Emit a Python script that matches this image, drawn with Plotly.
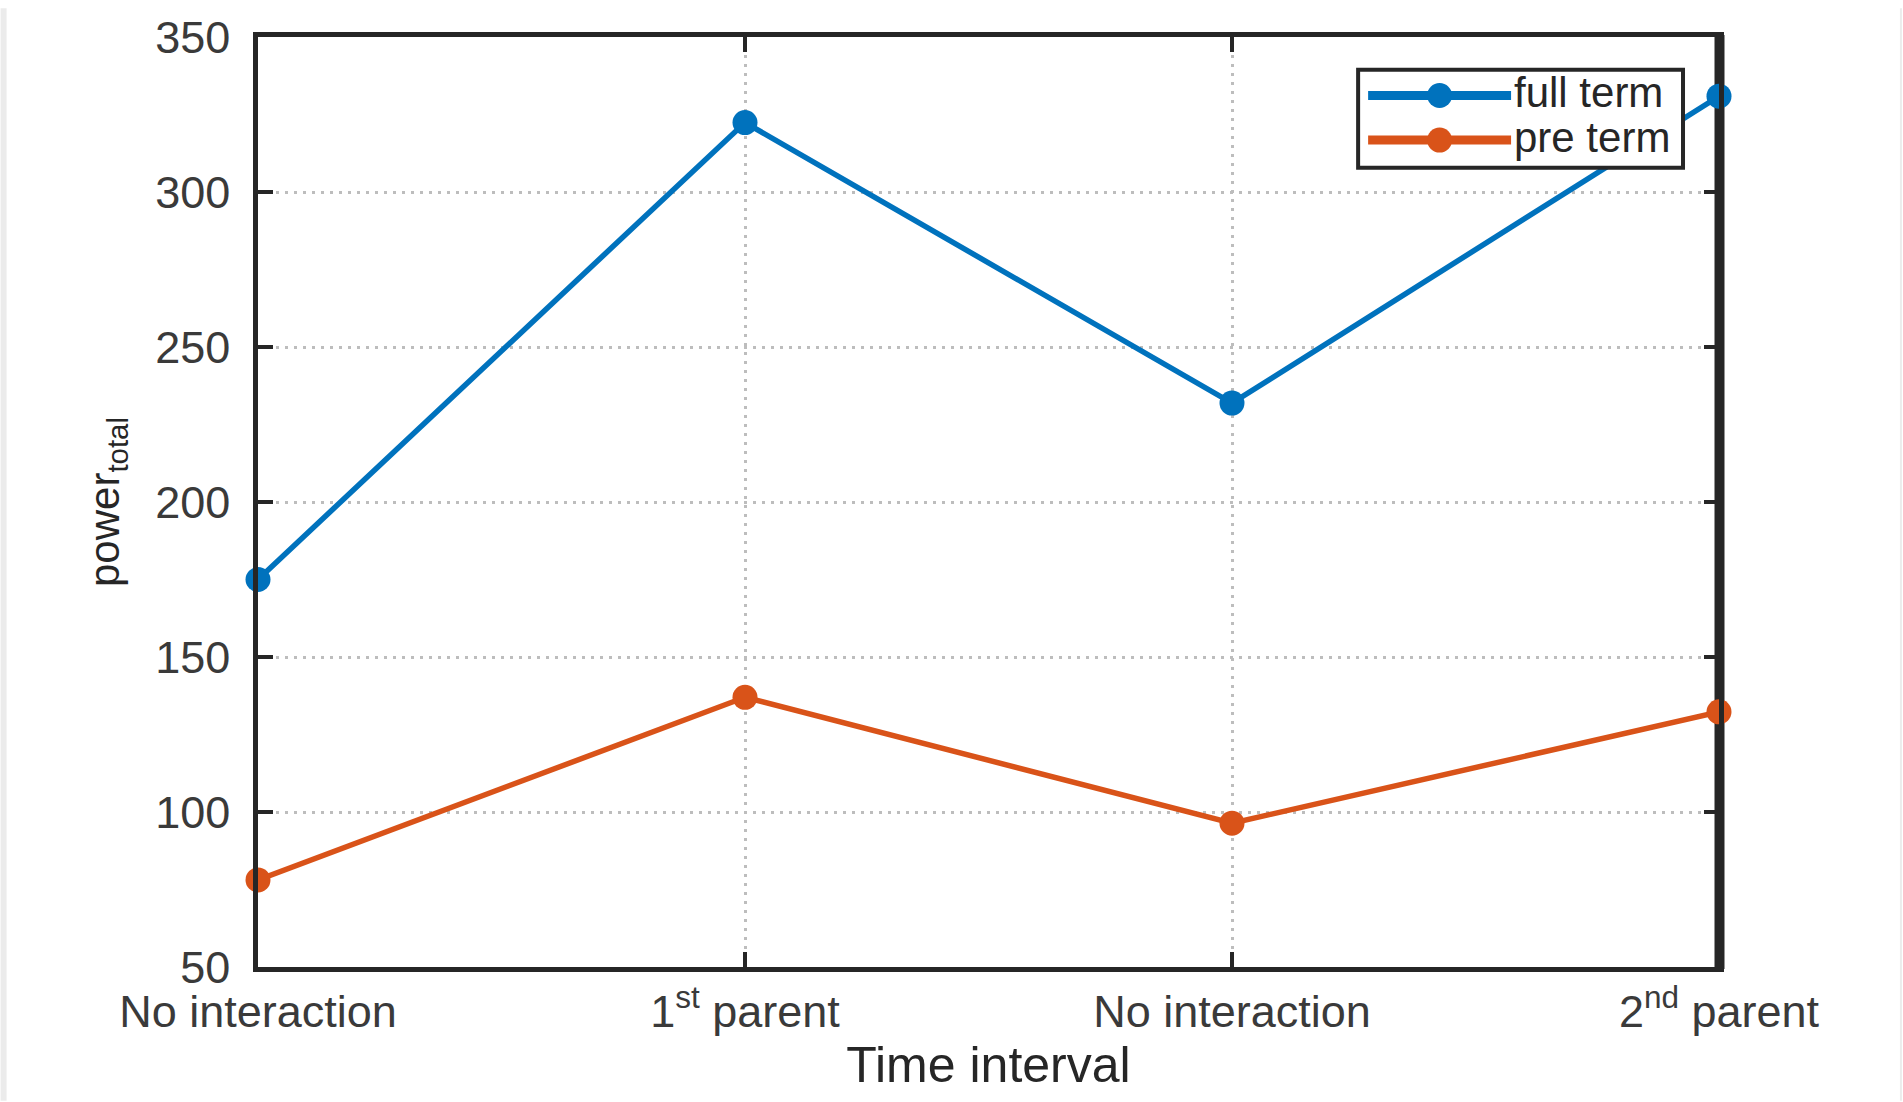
import plotly.graph_objects as go

# Power totals per time interval for the two groups
categories = ["No interaction", "1<sup>st</sup> parent", "No interaction", "2<sup>nd</sup> parent"]
x_pos = [0, 1, 2, 3]
full_term = [175, 322.4, 231.9, 330.9]
pre_term = [78.1, 137, 96.4, 132.3]
series_names = ["full term", "pre term"]
y_ticks = [50, 100, 150, 200, 250, 300, 350]

BLUE = "#0072BD"
ORANGE = "#D95319"
AXIS = "#262626"
FONT = "Liberation Sans, Arial, sans-serif"

W, H = 1903, 1102
L, R, T, B = 257.5, 184, 29, 135
PW = W - L - R
PH = H - T - B


def px_x(px):
    return (px - L) / PW


def px_y(py):
    return (H - B - py) / PH


fig = go.Figure()
for name, vals, col in [(series_names[0], full_term, BLUE), (series_names[1], pre_term, ORANGE)]:
    fig.add_trace(go.Scatter(
        x=x_pos, y=vals, name=name, mode="lines+markers",
        line=dict(color=col, width=5.5),
        marker=dict(color=col, size=25),
        cliponaxis=False, showlegend=False,
    ))

axis_common = dict(
    showline=True, linecolor=AXIS, linewidth=4.5, mirror="ticks",
    ticks="inside", ticklen=15, tickwidth=4, tickcolor=AXIS,
    showgrid=True, gridcolor="#bdbdbd", gridwidth=3, griddash="3px,6px",
    zeroline=False,
    tickfont=dict(family=FONT, size=45, color="#3a3a3a"),
)

fig.update_xaxes(
    **axis_common,
    range=[0, 3], tickvals=x_pos, ticktext=categories,
    ticklabelstandoff=1,
    title=dict(text="Time interval", font=dict(family=FONT, size=50, color="#262626"), standoff=12),
)
fig.update_yaxes(
    **axis_common,
    range=[50, 350], tickvals=y_ticks,
    ticklabelstandoff=14,
    title=dict(text="power<sub>total</sub>", font=dict(family=FONT, size=42, color="#262626"), standoff=24),
)

shapes = [
    # heavier right-hand frame edge, kept beneath the series markers
    dict(type="line", xref="paper", yref="paper", x0=px_x(1719.5), x1=px_x(1719.5), y0=px_y(969), y1=px_y(27),
         line=dict(color=AXIS, width=10), layer="between"),
    # page edge strips
    dict(type="rect", xref="paper", yref="paper", x0=px_x(0), x1=px_x(6), y0=px_y(H), y1=px_y(0),
         line=dict(width=0), fillcolor="#ebebeb", layer="below"),
    dict(type="line", xref="paper", yref="paper", x0=px_x(1901), x1=px_x(1901), y0=px_y(H), y1=px_y(0),
         line=dict(color="#ececec", width=2), layer="below"),
    # legend box
    dict(type="rect", xref="paper", yref="paper",
         x0=px_x(1358), x1=px_x(1683), y0=px_y(161), y1=px_y(62),
         line=dict(color=AXIS, width=4), fillcolor="white", layer="above"),
]

annotations = []
legend_rows = [(series_names[0], BLUE, 88), (series_names[1], ORANGE, 133)]
for name, col, yrow in legend_rows:
    yp = px_y(yrow)
    shapes.append(dict(type="line", xref="paper", yref="paper",
                       x0=px_x(1368), x1=px_x(1511), y0=yp, y1=yp,
                       line=dict(color=col, width=9), layer="above"))
    shapes.append(dict(type="circle", xref="paper", yref="paper",
                       xsizemode="pixel", ysizemode="pixel",
                       xanchor=px_x(1439.5), yanchor=yp,
                       x0=-12.5, x1=12.5, y0=-12.5, y1=12.5,
                       line=dict(width=0), fillcolor=col, layer="above"))
    annotations.append(dict(xref="paper", yref="paper", x=px_x(1512), y=px_y(yrow - 3),
                            xanchor="left", yanchor="middle", showarrow=False,
                            text=name, font=dict(family=FONT, size=42, color="#262626")))

fig.update_layout(
    width=W, height=H,
    margin=dict(l=L, r=R, t=T, b=B, pad=0),
    paper_bgcolor="white", plot_bgcolor="white",
    shapes=shapes, annotations=annotations,
    showlegend=False,
)

fig.write_html("out.html")
